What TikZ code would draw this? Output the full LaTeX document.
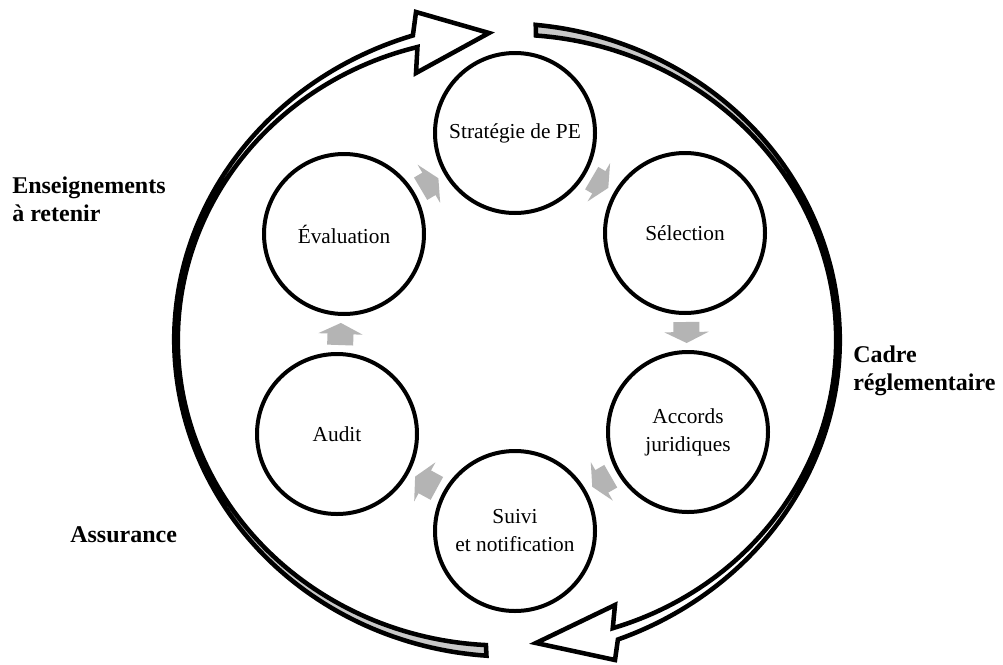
\documentclass[tikz,border=0pt]{standalone}
\usepackage{fontspec}
\setmainfont{Liberation Serif}
\usetikzlibrary{arrows.meta}
\definecolor{arrgray}{RGB}{180,180,180}
\definecolor{tailgray}{RGB}{200,200,200}
\begin{document}
\begin{tikzpicture}[x=0.75pt,y=-0.75pt,
  declare function={
    bu(\s)=max(1-2*\s,0);
    bt(\s)=max(2*\s-1,0);
    bw(\s)=1.8+3.5*bu(\s)*sqrt(bu(\s))+4.4*bt(\s)*bt(\s)*sqrt(bt(\s));
    thR(\s)=85.1-156.1*\s;
    thL(\s)=266.5-160.5*\s;
  },
  stage/.style={circle, draw, line width=3pt, minimum size=120pt, inner sep=0pt,
    align=center, font=\fontsize{16}{21}\selectfont},
  side/.style={align=left, font=\fontsize{18}{21}\selectfont\bfseries, inner sep=0pt, anchor=west},
  cyc/.style={draw=arrgray, line width=19.5pt, shorten <=5.25pt, shorten >=5.25pt,
    -{Triangle[width=33pt,length=8.25pt]}},
  band/.style={draw=black, line width=3.4pt, line join=miter},
]
\fill[white] (0,0) rectangle (1003,664);
\useasboundingbox (0,0) rectangle (1003,664);

% right band (Cadre reglementaire): tail at top, head at bottom
\fill[tailgray] plot[domain=0:0.5, samples=40, variable=\s]
   ({507+(331+bw(\s))*cos(thR(\s))},{340-(311+bw(\s))*sin(thR(\s))})
 -- plot[domain=0:0.5, samples=40, variable=\s]
   ({507+(331-bw(0.5-\s))*cos(thR(0.5-\s))},{340-(311-bw(0.5-\s))*sin(thR(0.5-\s))})
 -- cycle;
\draw[band] plot[domain=0:1, samples=120, variable=\s]
   ({507+(331+bw(\s))*cos(thR(\s))},{340-(311+bw(\s))*sin(thR(\s))})
 -- (615,660) -- (536,643) -- (615,605)
 -- plot[domain=0:1, samples=120, variable=\s]
   ({507+(331-bw(1-\s))*cos(thR(1-\s))},{340-(311-bw(1-\s))*sin(thR(1-\s))})
 -- cycle;

% left band: tail at bottom, head at top
\fill[tailgray] plot[domain=0:0.5, samples=40, variable=\s]
   ({507+(331+bw(\s))*cos(thL(\s))},{340-(311+bw(\s))*sin(thL(\s))})
 -- plot[domain=0:0.5, samples=40, variable=\s]
   ({507+(331-bw(0.5-\s))*cos(thL(0.5-\s))},{340-(311-bw(0.5-\s))*sin(thL(0.5-\s))})
 -- cycle;
\draw[band] plot[domain=0:1, samples=120, variable=\s]
   ({507+(331+bw(\s))*cos(thL(\s))},{340-(311+bw(\s))*sin(thL(\s))})
 -- (416,12) -- (489,33) -- (416,73)
 -- plot[domain=0:1, samples=120, variable=\s]
   ({507+(331-bw(1-\s))*cos(thL(1-\s))},{340-(311-bw(1-\s))*sin(thL(1-\s))})
 -- cycle;

% stages
\node[stage] (strat) at (515,133) {Stratégie de PE};
\node[stage] (sel)   at (685,233) {Sélection};
\node[stage] (acc)   at (688,432) {Accords\\juridiques};
\node[stage] (suivi) at (515,531) {Suivi\\et notification};
\node[stage] (audit) at (337,434) {Audit};
\node[stage] (eval)  at (344,234) {Évaluation};

% cycle arrows
\draw[cyc] (eval) -- (strat);
\draw[cyc] (strat) -- (sel);
\draw[cyc] (sel) -- (acc);
\draw[cyc] (acc) -- (suivi);
\draw[cyc] (suivi) -- (audit);
\draw[cyc] (audit) -- (eval);

% side labels
\node[side] (ens)   at (12,199)  {Enseignements\\à retenir};
\node[side] (cadre) at (853,371) {Cadre\\réglementaire};
\node[side] (assur) at (70,535)  {Assurance};
\end{tikzpicture}
\end{document}
